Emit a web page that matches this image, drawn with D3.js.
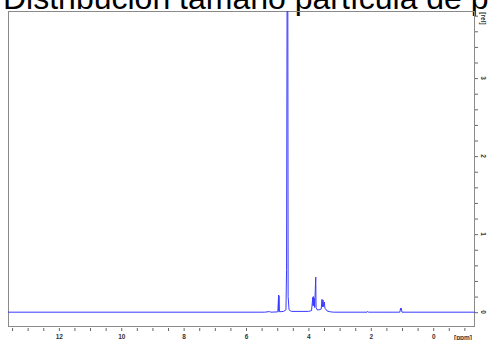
<!DOCTYPE html>
<html>
<head>
<meta charset="utf-8">
<script src="https://cdn.jsdelivr.net/npm/d3@7"></script>
<style>
    html, body { margin: 0; padding: 0; background: #fff; }
    svg { display: block; }
</style>
</head>
<body>
<svg id="main" width="489" height="340"></svg>
<script>
// titulo (cortado en la imagen original)
const title = "Distribución tamaño partícula de p";

// espectro: desplazamiento químico [ppm] e intensidad [rel]
const ppm = [13.63, 5.40, 5.25, 5.20, 4.98, 4.955, 4.950, 4.945, 4.93, 4.80, 4.72, 4.70, 4.675, 4.665, 4.65, 4.62, 4.55,
    4.00, 3.90, 3.86, 3.85, 3.84, 3.83, 3.815, 3.80, 3.765, 3.755, 3.72, 3.66, 3.59, 3.565, 3.55, 3.53, 3.52, 3.49, 3.47,
    3.40, 3.30, 3.20, 2.12, 2.10, 2.08, 1.07, 1.045, 1.035, 1.025, 1.00, -1.34];
const intensity = [0, 0, 0.008, 0, 0.004, 0.22, 0.01, 0.21, 0.005, 0.01, 0.03, 0.55, 6.0, 6.0, 0.2, 0.03, 0.01,
    0.01, 0.02, 0.19, 0.08, 0.2, 0.09, 0.18, 0.06, 0.45, 0.06, 0.03, 0.03, 0.04, 0.165, 0.07, 0.155, 0.07, 0.13, 0.05,
    0.015, 0.005, 0, 0, 0.01, 0, 0, 0.05, 0.03, 0.05, 0, 0];

// ejes
const xTicks = d3.range(-1, 13.51, 0.5);
const xLabels = [12, 10, 8, 6, 4, 2, 0];
const yTicks = d3.range(0, 3.81, 0.2);
const yLabels = [0, 1, 2, 3];
const xUnit = "[ppm]";
const yUnit = "[rel]";

const render = () => {
    const size = {
        width: 489, height: 340,
        frame: {left: 8, top: 11, right: 475, bottom: 327}
    };
    const f = size.frame;

    const xScale = d3.scaleLinear([13.63, -1.34], [f.left, f.right]);
    const yScale = d3.scaleLinear([-0.19, 3.86], [f.bottom, f.top]);

    const svg = d3.select("#main");

    svg.append("defs").append("clipPath")
        .attr("id", "plotClip")
        .append("rect")
        .attr("x", f.left)
        .attr("y", f.top)
        .attr("width", f.right - f.left)
        .attr("height", f.bottom - f.top);

    // titulo
    svg.append("text")
        .attr("x", 3)
        .attr("y", 8.5)
        .attr("font-family", "'Liberation Sans', Arial, sans-serif")
        .attr("font-size", 32)
        .attr("fill", "#000")
        .text(title);

    // marco
    svg.append("rect")
        .attr("x", f.left + 0.5)
        .attr("y", f.top + 0.5)
        .attr("width", f.right - f.left - 1)
        .attr("height", f.bottom - f.top - 1)
        .attr("fill", "none")
        .attr("stroke", "#8a8a8a")
        .attr("stroke-width", 1);

    // espectro
    const points = ppm.map((d, i) => ({ppm: d, value: intensity[i]}));
    const line = d3.line()
        .x(d => xScale(d.ppm))
        .y(d => yScale(d.value));

    svg.append("path")
        .datum(points)
        .attr("clip-path", "url(#plotClip)")
        .attr("d", line)
        .attr("fill", "none")
        .attr("stroke", "#3a3aff")
        .attr("stroke-width", 1);

    // eje x (abajo)
    const xAxis = d3.axisBottom(xScale)
        .tickValues(xTicks)
        .tickSize(3)
        .tickPadding(3)
        .tickFormat(d => xLabels.includes(d) ? d : "");

    const gx = svg.append("g")
        .attr("transform", `translate(0, ${f.bottom + 1})`)
        .call(xAxis);
    gx.select(".domain").remove();
    gx.selectAll("line").attr("stroke", "#666");
    gx.selectAll("text")
        .attr("font-family", "'Liberation Sans', Arial, sans-serif")
        .attr("font-weight", "bold")
        .attr("font-size", 6.5)
        .attr("fill", "#333");

    svg.append("text")
        .attr("x", 463)
        .attr("y", 339.5)
        .attr("text-anchor", "middle")
        .attr("font-family", "'Liberation Sans', Arial, sans-serif")
        .attr("font-weight", "bold")
        .attr("font-size", 6.5)
        .attr("fill", "#333")
        .text(xUnit);

    // eje y (derecha)
    const yAxis = d3.axisRight(yScale)
        .tickValues(yTicks)
        .tickSize(3)
        .tickFormat("");

    const gy = svg.append("g")
        .attr("transform", `translate(${f.right}, 0)`)
        .call(yAxis);
    gy.select(".domain").remove();
    gy.selectAll("line").attr("stroke", "#666");

    svg.append("g")
        .selectAll("text")
        .data(yLabels)
        .join("text")
        .attr("transform", d => `translate(483, ${yScale(d)}) rotate(90)`)
        .attr("text-anchor", "middle")
        .attr("dy", "0.35em")
        .attr("font-family", "'Liberation Sans', Arial, sans-serif")
        .attr("font-weight", "bold")
        .attr("font-size", 6.5)
        .attr("fill", "#333")
        .text(d => d);

    svg.append("text")
        .attr("transform", "translate(483, 18.5) rotate(90)")
        .attr("text-anchor", "middle")
        .attr("dy", "0.35em")
        .attr("font-family", "'Liberation Sans', Arial, sans-serif")
        .attr("font-weight", "bold")
        .attr("font-size", 6.5)
        .attr("fill", "#333")
        .text(yUnit);
};

render();
</script>
</body>
</html>
